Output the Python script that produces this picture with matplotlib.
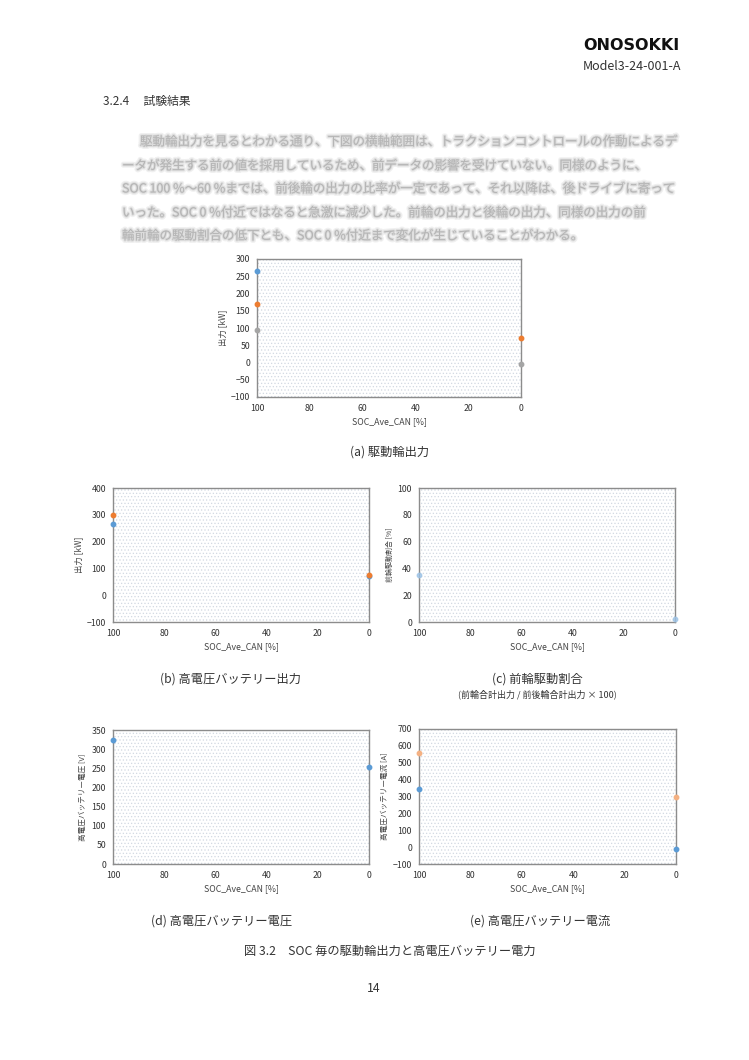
import matplotlib
matplotlib.use("Agg")
import matplotlib.pyplot as plt
import matplotlib.patheffects as pe
from matplotlib.patches import Rectangle

plt.rcParams['font.family'] = ['Noto Sans CJK JP', 'DejaVu Sans']
plt.rcParams['hatch.linewidth'] = 0.5

# ---------------- data ----------------
soc_ticks = [100, 80, 60, 40, 20, 0]

# (a) drive wheel output [kW]
a_blue_x = [100];      a_blue_y = [265]
a_orange_x = [100, 0]; a_orange_y = [170, 70]
a_grey_x = [100, 0];   a_grey_y = [93, -3]
a_yticks = [-100, -50, 0, 50, 100, 150, 200, 250, 300]

# (b) HV battery output [kW]
b_blue_x = [100, 0];   b_blue_y = [265, 72]
b_orange_x = [100, 0]; b_orange_y = [300, 75]
b_yticks = [-100, 0, 100, 200, 300, 400]

# (c) front wheel drive ratio [%]
c_x = [100, 0]; c_y = [35, 2]
c_yticks = [0, 20, 40, 60, 80, 100]

# (d) HV battery voltage [V]
d_x = [100, 0]; d_y = [325, 253]
d_yticks = [0, 50, 100, 150, 200, 250, 300, 350]

# (e) HV battery current [A]
e_blue_x = [100, 0];   e_blue_y = [345, -10]
e_orange_x = [100, 0]; e_orange_y = [560, 300]
e_yticks = [-100, 0, 100, 200, 300, 400, 500, 600, 700]

BLUE = '#5B9BD5'
ORANGE = '#ED7D31'
GREY = '#A5A5A5'
LBLUE = '#9DC3E6'

W, H = 749, 1060
fig = plt.figure(figsize=(W / 100, H / 100), dpi=100)


def px_axes(x0, y0, x1, y1):
    return fig.add_axes([x0 / W, 1 - y1 / H, (x1 - x0) / W, (y1 - y0) / H])


def style(ax, yticks, ylabel, ylabel_size=6):
    ax.set_xlim(100, 0)
    ax.set_xticks(soc_ticks)
    ax.set_ylim(yticks[0], yticks[-1])
    ax.set_yticks(yticks)
    ax.tick_params(length=0, labelsize=6.3, pad=5, colors='#333333')
    for s in ax.spines.values():
        s.set_color('#8c8c8c')
        s.set_linewidth(1.0)
    ax.set_xlabel('SOC_Ave_CAN [%]', fontsize=6.3, color='#444444', labelpad=3)
    ax.set_ylabel(ylabel, fontsize=ylabel_size, color='#444444', labelpad=3)
    ax.add_patch(Rectangle((0, 0), 1, 1, transform=ax.transAxes, fill=False,
                           hatch='.....', edgecolor='#d2d9e2', lw=0, zorder=0))


def pts(ax, x, y, c, alpha=1.0):
    ax.plot(x, y, 'o', color=c, ms=3.2, mec=c, alpha=alpha, clip_on=False, zorder=5)


# (a)
ax = px_axes(257, 259, 521, 397)
style(ax, a_yticks, '出力 [kW]')
pts(ax, a_grey_x, a_grey_y, GREY)
pts(ax, a_orange_x, a_orange_y, ORANGE)
pts(ax, a_blue_x, a_blue_y, BLUE)

# (b)
ax = px_axes(113, 488, 369, 622)
style(ax, b_yticks, '出力 [kW]')
pts(ax, b_blue_x, b_blue_y, BLUE)
pts(ax, b_orange_x, b_orange_y, ORANGE)

# (c)
ax = px_axes(419, 488, 675, 622)
style(ax, c_yticks, '前輪駆動割合 [%]', ylabel_size=5)
pts(ax, c_x, c_y, LBLUE, alpha=0.8)

# (d)
ax = px_axes(113, 730, 369, 864)
style(ax, d_yticks, '高電圧バッテリー電圧 [V]', ylabel_size=5.5)
pts(ax, d_x, d_y, BLUE)

# (e)
ax = px_axes(419, 729, 676, 864)
style(ax, e_yticks, '高電圧バッテリー電流 [A]', ylabel_size=5.5)
pts(ax, e_blue_x, e_blue_y, BLUE)
pts(ax, e_orange_x, e_orange_y, '#F4B183')


def ftext(x, y, s, **kw):
    fig.text(x / W, 1 - y / H, s, **kw)


# header
ftext(680, 45, 'ONOSOKKI', fontsize=11.5, fontweight='bold', ha='right', va='center',
      family=['DejaVu Sans'], color='#111111')
ftext(681, 66, 'Model3-24-001-A', fontsize=9, ha='right', va='center', color='#333333')
ftext(103, 101, '3.2.4　 試験結果', fontsize=8.5, ha='left', va='center', color='#333333')

# blurred paragraph
para = [
    (140, 142, '駆動輪出力を見るとわかる通り、下図の横軸範囲は、トラクションコントロールの作動によるデ'),
    (122, 166, 'ータが発生する前の値を採用しているため、前データの影響を受けていない。同様のように、'),
    (122, 189, 'SOC 100 %～60 %までは、前後輪の出力の比率が一定であって、それ以降は、後ドライブに寄って'),
    (122, 213, 'いった。SOC 0 %付近ではなると急激に減少した。前輪の出力と後輪の出力、同様の出力の前'),
    (122, 236, '輪前輪の駆動割合の低下とも、SOC 0 %付近まで変化が生じていることがわかる。'),
]
blur = [pe.Stroke(linewidth=3.5, foreground='#e2e2e2', alpha=0.5),
        pe.Stroke(linewidth=1.6, foreground='#cfcfcf', alpha=0.6),
        pe.Normal()]
for x, y, s in para:
    ftext(x, y, s, fontsize=9.0, ha='left', va='center', color='#b5b5b5',
          path_effects=blur)

# captions
cap = dict(fontsize=8.8, ha='center', va='center', color='#333333')
ftext(390, 452, '(a) 駆動輪出力', **cap)
ftext(230, 679, '(b) 高電圧バッテリー出力', **cap)
ftext(537, 679, '(c) 前輪駆動割合', **cap)
ftext(537, 694, '(前輪合計出力 / 前後輪合計出力 × 100)', fontsize=6.5, ha='center',
      va='center', color='#333333')
ftext(222, 921, '(d) 高電圧バッテリー電圧', **cap)
ftext(540, 921, '(e) 高電圧バッテリー電流', **cap)
ftext(390, 951, '図 3.2　SOC 毎の駆動輪出力と高電圧バッテリー電力', **cap)
ftext(374, 988, '14', fontsize=8.8, ha='center', va='center', color='#333333')

fig.savefig('out.png', dpi=100)
